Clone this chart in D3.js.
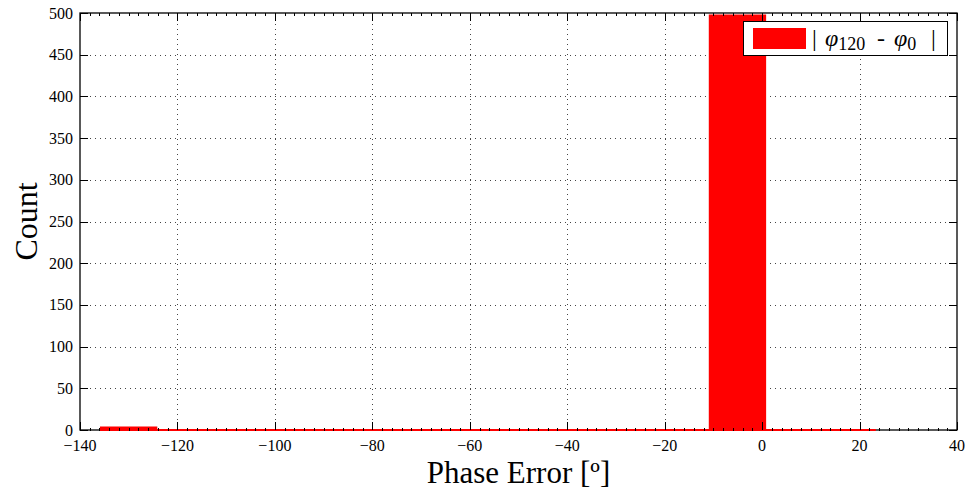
<!DOCTYPE html>
<html>
<head>
<meta charset="utf-8">
<script src="https://cdn.jsdelivr.net/npm/d3@7"></script>
<style>
  html, body { margin: 0; padding: 0; background: #fff; }
  svg { display: block; }
  svg text { font-family: "Liberation Serif", "DejaVu Serif", serif; fill: #000; }
</style>
</head>
<body>
<svg id="chart" width="970" height="490"></svg>
<script>
// Histogram of phase error: bin edges (degrees) and counts per bin
const binEdges = [-135.7, -124.34, -112.98, -101.62, -90.26, -78.9, -67.54, -56.18,
                  -44.82, -33.46, -22.1, -10.74, 0.62, 11.98, 23.34];
const counts = [3, 0, 0, 0, 0, 0, 0, 0, 0, 0, 0, 497, 0, 0];
const xTicks = [-140, -120, -100, -80, -60, -40, -20, 0, 20, 40];
const yTicks = [0, 50, 100, 150, 200, 250, 300, 350, 400, 450, 500];
const xDomain = [-140, 40];
const yDomain = [0, 500];

const bins = counts.map((c, i) => ({ x0: binEdges[i], x1: binEdges[i + 1], count: c }));

const margin = { left: 80, right: 13, top: 13, bottom: 60 };
const W = 970, H = 490;
const svg = d3.select("#chart");

const x = d3.scaleLinear().domain(xDomain).range([margin.left, W - margin.right]);
const y = d3.scaleLinear().domain(yDomain).range([H - margin.bottom, margin.top]);
const [x0, x1] = x.range();
const [yb, yt] = y.range();

// dotted grid
const grid = svg.append("g").attr("stroke", "#444").attr("stroke-width", 1)
  .attr("stroke-dasharray", "1,4");
grid.selectAll("line.gx").data(xTicks.slice(1, -1)).join("line")
  .attr("x1", d => Math.round(x(d)) + 0.5).attr("x2", d => Math.round(x(d)) + 0.5)
  .attr("y1", yb).attr("y2", yt);
grid.selectAll("line.gy").data(yTicks.slice(1, -1)).join("line")
  .attr("y1", d => Math.round(y(d)) + 0.5).attr("y2", d => Math.round(y(d)) + 0.5)
  .attr("x1", x0).attr("x2", x1);

// frame
svg.append("rect")
  .attr("x", x0).attr("y", yt).attr("width", x1 - x0).attr("height", yb - yt)
  .attr("fill", "none").attr("stroke", "#000").attr("stroke-width", 1.3);

// histogram bars as closed paths, so empty bins still show as a red baseline stroke
svg.append("g").selectAll("path").data(bins).join("path")
  .attr("d", d => `M${x(d.x0)},${y(0)}V${y(d.count)}H${x(d.x1)}V${y(0)}Z`)
  .attr("fill", "#ff0000")
  .attr("stroke", "#ff0000")
  .attr("stroke-width", 2);

// inward ticks on all four sides
const majorLen = 8, minorLen = 3;
const minorX = d3.range(-140, 40.001, 2).filter(v => xTicks.indexOf(v) < 0);

function ticksX(g, yPos, dir, vals, len) {
  g.selectAll(null).data(vals).join("line")
    .attr("x1", d => Math.round(x(d)) + 0.5).attr("x2", d => Math.round(x(d)) + 0.5)
    .attr("y1", yPos).attr("y2", yPos + dir * len);
}
function ticksY(g, xPos, dir, vals, len) {
  g.selectAll(null).data(vals).join("line")
    .attr("y1", d => Math.round(y(d)) + 0.5).attr("y2", d => Math.round(y(d)) + 0.5)
    .attr("x1", xPos).attr("x2", xPos + dir * len);
}

const ax = svg.append("g").attr("stroke", "#000").attr("stroke-width", 1);
ticksX(ax, yb, -1, xTicks, majorLen);
ticksX(ax, yt, 1, xTicks, majorLen);
ticksX(ax, yb + 1, -1, minorX, minorLen);
ticksX(ax, yt, 1, minorX, minorLen);
ticksY(ax, x0, 1, yTicks, majorLen);
ticksY(ax, x1, -1, yTicks, majorLen);

// tick labels
const fmt = d => d < 0 ? "\u2212" + Math.abs(d) : String(d);
svg.append("g").selectAll("text").data(xTicks).join("text")
  .attr("x", d => x(d)).attr("y", yb + 21)
  .attr("text-anchor", "middle").attr("font-size", 16)
  .text(fmt);
svg.append("g").selectAll("text").data(yTicks).join("text")
  .attr("x", x0 - 7).attr("y", d => y(d) + 5.5)
  .attr("text-anchor", "end").attr("font-size", 16)
  .text(d => d);

// axis titles
svg.append("text")
  .attr("x", (x0 + x1) / 2).attr("y", 483)
  .attr("text-anchor", "middle").attr("font-size", 31)
  .text("Phase Error [\u00BA]");
svg.append("text")
  .attr("transform", `translate(37, ${(yb + yt) / 2}) rotate(-90)`)
  .attr("text-anchor", "middle").attr("font-size", 32)
  .text("Count");

// legend
const lg = svg.append("g");
lg.append("rect").attr("x", 743.5).attr("y", 21.5).attr("width", 204).attr("height", 34)
  .attr("fill", "#fff").attr("stroke", "#000").attr("stroke-width", 1);
lg.append("rect").attr("x", 753).attr("y", 28).attr("width", 53).attr("height", 21)
  .attr("fill", "#ff0000");
const lt = lg.append("text").attr("y", 46).attr("font-size", 24);
lt.append("tspan").attr("x", 812).text("|");
lt.append("tspan").attr("x", 825).attr("font-style", "italic").text("\u03C6");
lt.append("tspan").attr("font-size", 18).attr("dy", 4).text("120");
lt.append("tspan").attr("x", 877).attr("dy", -4).text("-");
lt.append("tspan").attr("x", 894).attr("font-style", "italic").text("\u03C6");
lt.append("tspan").attr("font-size", 18).attr("dy", 4).text("0");
lt.append("tspan").attr("x", 931).attr("dy", -4).text("|");
</script>
</body>
</html>
